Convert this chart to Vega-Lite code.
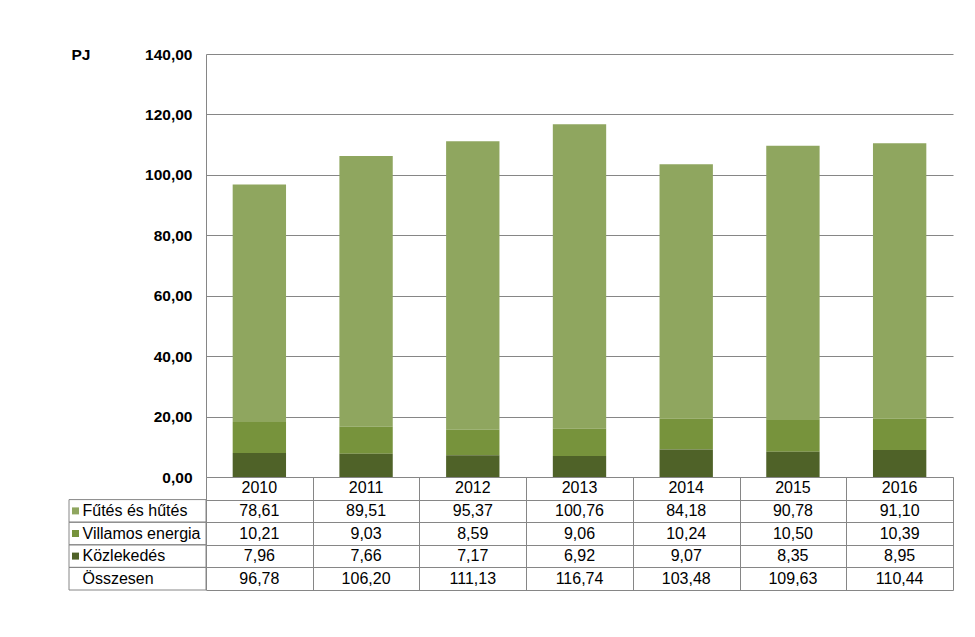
{
  "$schema": "https://vega.github.io/schema/vega-lite/v6.json",
  "padding": {"left": 68, "top": 47, "right": 5, "bottom": 5},
  "background": "white",
  "config": {
    "font": "Liberation Sans",
    "locale": {"number": {"decimal": ",", "thousands": " ", "grouping": [3], "currency": ["", ""]}},
    "view": {"stroke": null},
    "text": {"color": "black"}
  },
  "datasets": {
    "energy": [
      {"year": "2010", "series": "Fűtés és hűtés", "value": 78.61},
      {"year": "2010", "series": "Villamos energia", "value": 10.21},
      {"year": "2010", "series": "Közlekedés", "value": 7.96},
      {"year": "2010", "series": "Összesen", "value": 96.78},
      {"year": "2011", "series": "Fűtés és hűtés", "value": 89.51},
      {"year": "2011", "series": "Villamos energia", "value": 9.03},
      {"year": "2011", "series": "Közlekedés", "value": 7.66},
      {"year": "2011", "series": "Összesen", "value": 106.20},
      {"year": "2012", "series": "Fűtés és hűtés", "value": 95.37},
      {"year": "2012", "series": "Villamos energia", "value": 8.59},
      {"year": "2012", "series": "Közlekedés", "value": 7.17},
      {"year": "2012", "series": "Összesen", "value": 111.13},
      {"year": "2013", "series": "Fűtés és hűtés", "value": 100.76},
      {"year": "2013", "series": "Villamos energia", "value": 9.06},
      {"year": "2013", "series": "Közlekedés", "value": 6.92},
      {"year": "2013", "series": "Összesen", "value": 116.74},
      {"year": "2014", "series": "Fűtés és hűtés", "value": 84.18},
      {"year": "2014", "series": "Villamos energia", "value": 10.24},
      {"year": "2014", "series": "Közlekedés", "value": 9.07},
      {"year": "2014", "series": "Összesen", "value": 103.48},
      {"year": "2015", "series": "Fűtés és hűtés", "value": 90.78},
      {"year": "2015", "series": "Villamos energia", "value": 10.50},
      {"year": "2015", "series": "Közlekedés", "value": 8.35},
      {"year": "2015", "series": "Összesen", "value": 109.63},
      {"year": "2016", "series": "Fűtés és hűtés", "value": 91.10},
      {"year": "2016", "series": "Villamos energia", "value": 10.39},
      {"year": "2016", "series": "Közlekedés", "value": 8.95},
      {"year": "2016", "series": "Összesen", "value": 110.44}
    ]
  },
  "columns": 2,
  "spacing": 0,
  "bounds": "flush",
  "align": "each",
  "concat": [
    {
      "width": 137,
      "height": 423,
      "data": {"values": [{}]},
      "mark": {"type": "text", "text": ""}
    },
    {
      "width": 747,
      "height": 423,
      "data": {"name": "energy"},
      "transform": [
        {"filter": "datum.series !== 'Összesen'"},
        {"calculate": "indexof(['Közlekedés', 'Villamos energia', 'Fűtés és hűtés'], datum.series)", "as": "stackOrder"}
      ],
      "mark": {"type": "bar"},
      "encoding": {
        "x": {"field": "year", "type": "nominal", "scale": {"paddingInner": 0.5, "paddingOuter": 0.25}, "axis": null},
        "y": {
          "field": "value", "type": "quantitative", "stack": "zero",
          "scale": {"domain": [0, 140], "nice": false},
          "axis": {
            "values": [0, 20, 40, 60, 80, 100, 120, 140],
            "format": ".2f",
            "labelFontWeight": "bold", "labelFontSize": 15.5, "labelColor": "black", "labelPadding": 14,
            "ticks": false, "domainColor": "#868686", "gridColor": "#868686",
            "title": "PJ", "titleAngle": 0, "titleX": -135, "titleY": 0, "titleAlign": "left", "titleBaseline": "middle",
            "titleFontSize": 15.5, "titleFontWeight": "bold", "titleColor": "black"
          }
        },
        "order": {"field": "stackOrder", "type": "quantitative", "sort": "ascending"},
        "color": {
          "field": "series", "type": "nominal",
          "scale": {"domain": ["Közlekedés", "Villamos energia", "Fűtés és hűtés"], "range": ["#4F6228", "#77933C", "#8FA65F"]},
          "legend": null
        }
      }
    },
    {
      "width": 137,
      "height": 113,
      "data": {"name": "energy"},
      "transform": [{"filter": "datum.year === '2010'"}],
      "encoding": {
        "y": {
          "field": "series", "type": "nominal",
          "scale": {"domain": ["Év", "Fűtés és hűtés", "Villamos energia", "Közlekedés", "Összesen"], "paddingInner": 0, "paddingOuter": 0},
          "axis": null
        }
      },
      "layer": [
        {"mark": {"type": "rect", "filled": false, "color": "#868686", "strokeWidth": 1}},
        {
          "transform": [{"filter": "datum.series !== 'Összesen'"}],
          "mark": {"type": "square", "size": 49, "xOffset": -62, "opacity": 1, "filled": true},
          "encoding": {
            "color": {
              "field": "series", "type": "nominal",
              "scale": {"domain": ["Közlekedés", "Villamos energia", "Fűtés és hűtés"], "range": ["#4F6228", "#77933C", "#8FA65F"]},
              "legend": null
            }
          }
        },
        {
          "mark": {"type": "text", "align": "left", "xOffset": -55, "fontSize": 16},
          "encoding": {"text": {"field": "series"}}
        }
      ]
    },
    {
      "width": 747,
      "height": 113,
      "data": {"name": "energy"},
      "encoding": {
        "x": {
          "field": "year", "type": "nominal",
          "scale": {"paddingInner": 0, "paddingOuter": 0},
          "axis": {"orient": "top", "grid": true, "tickBand": "extent", "labels": false, "ticks": false, "domain": false, "title": null, "gridColor": "#868686"}
        }
      },
      "layer": [
        {
          "mark": {"type": "text", "fontSize": 16},
          "encoding": {
            "y": {
              "field": "series", "type": "nominal",
              "scale": {"domain": ["Év", "Fűtés és hűtés", "Villamos energia", "Közlekedés", "Összesen"], "paddingInner": 0, "paddingOuter": 0},
              "axis": {"grid": true, "tickBand": "extent", "labels": false, "ticks": false, "domain": false, "title": null, "gridColor": "#868686"}
            },
            "text": {"field": "value", "type": "quantitative", "format": ".2f"}
          }
        },
        {
          "transform": [{"filter": "datum.series === 'Összesen'"}],
          "mark": {"type": "text", "fontSize": 16},
          "encoding": {
            "y": {"datum": "Év"},
            "text": {"field": "year", "type": "nominal"}
          }
        }
      ]
    }
  ]
}
